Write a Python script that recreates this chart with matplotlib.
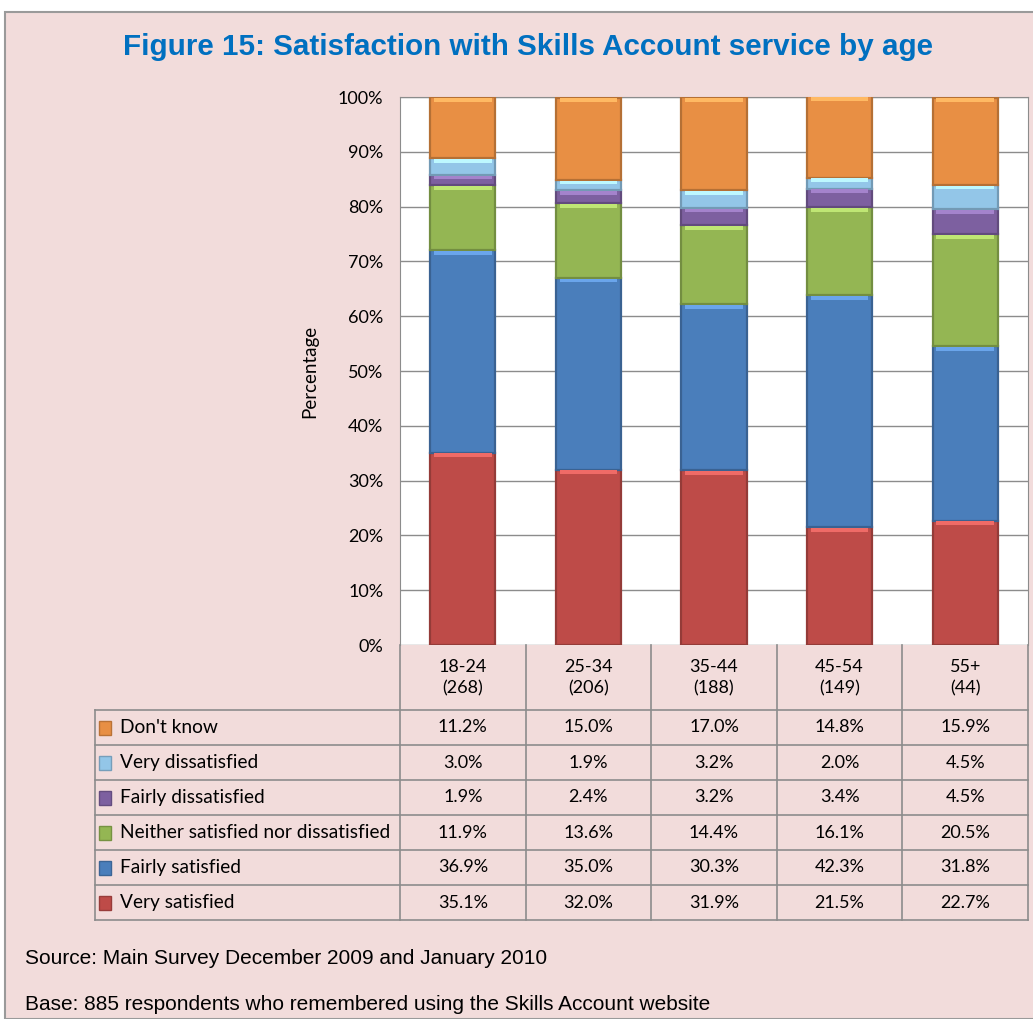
import numpy as np
import matplotlib
matplotlib.use('Agg')
import matplotlib.pyplot as plt
from matplotlib.patches import Rectangle
from matplotlib.colors import to_rgb

# data
categories = ['18-24\n(268)', '25-34\n(206)', '35-44\n(188)', '45-54\n(149)', '55+\n(44)']
series = ['Very satisfied', 'Fairly satisfied', 'Neither satisfied nor dissatisfied',
          'Fairly dissatisfied', 'Very dissatisfied', "Don't know"]
very_satisfied = [35.1, 32.0, 31.9, 21.5, 22.7]
fairly_satisfied = [36.9, 35.0, 30.3, 42.3, 31.8]
neither = [11.9, 13.6, 14.4, 16.1, 20.5]
fairly_dissatisfied = [1.9, 2.4, 3.2, 3.4, 4.5]
very_dissatisfied = [3.0, 1.9, 3.2, 2.0, 4.5]
dont_know = [11.2, 15.0, 17.0, 14.8, 15.9]
values = [very_satisfied, fairly_satisfied, neither, fairly_dissatisfied, very_dissatisfied, dont_know]
colors = ['#BE4B48', '#4A7EBB', '#94B653', '#7D60A0', '#93C6E8', '#E88F44']

W, H = 1033, 1019
BG = '#F2DCDB'
GRID = '#8C8C8C'
TFONT = 'Lato'

fig = plt.figure(figsize=(W / 100, H / 100), dpi=100)
fig.patch.set_facecolor('white')

# outer pink frame
fig.patches.append(Rectangle((5 / W, 0), 1.2, 1 - 12 / H, transform=fig.transFigure,
                             facecolor=BG, edgecolor='#9A9A9A', linewidth=1.5, zorder=-10))


def fx(px):
    return px / W


def fy(py):
    return 1 - py / H


# chart
x0, x1, y0, y1 = 400, 1028, 97, 645
ax = fig.add_axes([fx(x0), fy(y1), fx(x1) - fx(x0), fy(y0) - fy(y1)])
ax.set_facecolor('white')
xpos = np.arange(len(categories))
bottom = np.zeros(len(categories))
for vals, col in zip(values, colors):
    vals = np.array(vals)
    dark = tuple(c * 0.78 for c in to_rgb(col))
    ax.bar(xpos, vals, 0.52, bottom=bottom, color=col, edgecolor=dark, linewidth=1.6, zorder=3)
    # light strip on top of each segment (bevel look)
    light = tuple(min(1, c * 1.15 + 0.08) for c in to_rgb(col))
    ax.bar(xpos, np.minimum(vals, 0.7), 0.46, bottom=bottom + vals - np.minimum(vals, 0.7) - 0.15,
           color=light, linewidth=0, zorder=4)
    bottom += vals
ax.set_xlim(-0.5, len(categories) - 0.5)
ax.set_ylim(0, 100)
ax.set_yticks(np.arange(0, 101, 10))
ax.set_yticklabels(['{}%'.format(v) for v in range(0, 101, 10)], fontsize=13, family=TFONT)
ax.set_xticks([])
ax.yaxis.grid(True, color=GRID, linewidth=1, zorder=0)
ax.tick_params(axis='y', length=0, pad=12)
for s in ax.spines.values():
    s.set_color(GRID)
ax.spines['bottom'].set_visible(False)
ax.set_ylabel('Percentage', fontsize=13.5, family=TFONT, labelpad=14)

# data table
t_top, t_head, t_bot, t_left = 645, 710, 920, 95
tab = fig.add_axes([fx(t_left), fy(t_bot), fx(x1) - fx(t_left), fy(t_top) - fy(t_bot)])
tab.set_facecolor('none')
colw = (x1 - x0) / len(categories)
tab.set_xlim(-0.5 - (x0 - t_left) / colw, len(categories) - 0.5)
rowh = (t_bot - t_head) / len(series)
tab.set_ylim(0, (t_bot - t_top) / rowh)
tab.axis('off')
head_y = len(series) + (t_head - t_top) / rowh / 2
for i, c in enumerate(categories):
    tab.text(i, head_y, c, ha='center', va='center', fontsize=13, family=TFONT, linespacing=1.4)
xl = tab.get_xlim()[0]
for r in range(len(series) + 1):
    tab.plot([xl, len(categories) - 0.5], [r, r], color=GRID, lw=1.2, clip_on=False)
for i in range(len(categories) + 1):
    tab.plot([i - 0.5, i - 0.5], [0, tab.get_ylim()[1]], color=GRID, lw=1.2, clip_on=False)
tab.plot([xl, xl], [0, len(series)], color=GRID, lw=1.2, clip_on=False)
for r, (name, vals, col) in enumerate(zip(series, values, colors)):
    yc = r + 0.5
    dark = tuple(c * 0.8 for c in to_rgb(col))
    tab.add_patch(Rectangle((xl + 0.035, yc - 0.2), 0.09, 0.4, facecolor=col, edgecolor=dark, lw=1))
    tab.text(xl + 0.2, yc, name, ha='left', va='center', fontsize=13.8, family=TFONT)
    for i, v in enumerate(vals):
        tab.text(i, yc, '{:.1f}%'.format(v), ha='center', va='center', fontsize=13, family=TFONT)

fig.text(0.511, fy(47), 'Figure 15: Satisfaction with Skills Account service by age', ha='center', va='center',
         fontsize=21.3, fontweight='bold', color='#0070C0', family='Liberation Sans')
fig.text(fx(25), fy(958), 'Source: Main Survey December 2009 and January 2010', ha='left', va='center',
         fontsize=15, family='Liberation Sans')
fig.text(fx(25), fy(1005), 'Base: 885 respondents who remembered using the Skills Account website', ha='left',
         va='center', fontsize=15, family='Liberation Sans')

fig.savefig('out.png', dpi=100, facecolor=fig.get_facecolor())
